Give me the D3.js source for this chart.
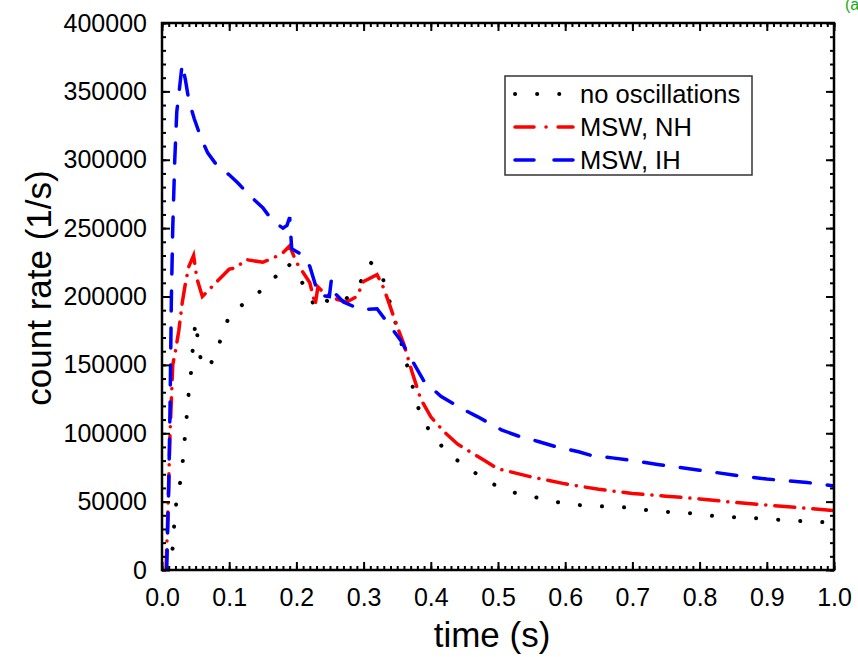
<!DOCTYPE html>
<html>
<head>
<meta charset="utf-8">
<script src="https://cdn.jsdelivr.net/npm/d3@7"></script>
<style>
  body { margin: 0; background: #fff; }
  text { font-family: "Liberation Sans", Arial, sans-serif; }
</style>
</head>
<body>
<svg id="chart" width="858" height="657"></svg>
<script>
// no oscillations
const tNoOsc = [0.007, 0.010, 0.016, 0.018, 0.021, 0.027, 0.031, 0.034, 0.037, 0.040, 0.044, 0.046, 0.050, 0.055, 0.058, 0.063, 0.070, 0.083, 0.092, 0.102, 0.117, 0.142, 0.164, 0.180, 0.186, 0.200, 0.215, 0.228, 0.240, 0.250, 0.270, 0.295, 0.310, 0.325, 0.335, 0.345, 0.355, 0.372, 0.381, 0.397, 0.424, 0.456, 0.490, 0.523, 0.557, 0.590, 0.624, 0.658, 0.690, 0.725, 0.760, 0.790, 0.824, 0.858, 0.890, 0.926, 0.958, 1.0];
const rNoOsc = [0, 7000, 16000, 32000, 48000, 64000, 80000, 97000, 114000, 131000, 148000, 164000, 182000, 162000, 153000, 148000, 148000, 162000, 176000, 187600, 193000, 202000, 212000, 220000, 225000, 217000, 205000, 192000, 198500, 195500, 196000, 210000, 225000, 219000, 203000, 185000, 168000, 136000, 119000, 102500, 85800, 74200, 63300, 56700, 53000, 49500, 47300, 46500, 45800, 43600, 42200, 41400, 39300, 38500, 37800, 36400, 35600, 34600];

// MSW, NH
const tNH = [0.006, 0.008, 0.012, 0.016, 0.020, 0.025, 0.030, 0.035, 0.040, 0.047, 0.052, 0.060, 0.070, 0.080, 0.090, 0.100, 0.110, 0.125, 0.150, 0.165, 0.180, 0.190, 0.200, 0.220, 0.228, 0.232, 0.240, 0.260, 0.275, 0.290, 0.300, 0.320, 0.330, 0.340, 0.350, 0.360, 0.372, 0.385, 0.400, 0.420, 0.440, 0.460, 0.480, 0.500, 0.550, 0.600, 0.650, 0.700, 0.750, 0.800, 0.850, 0.900, 0.950, 1.0];
const rNH = [0, 30000, 100000, 150000, 160000, 175000, 195000, 210000, 222000, 230000, 213000, 200000, 205000, 210000, 215000, 220000, 221000, 227000, 225000, 228000, 232000, 237000, 225000, 210000, 194000, 207000, 203000, 198000, 196000, 200000, 211000, 216000, 206000, 192000, 178000, 165000, 145000, 125000, 112000, 101000, 92000, 86000, 80000, 74000, 68000, 63000, 59000, 56000, 54000, 52000, 49500, 47500, 45500, 43500];

// MSW, IH
const tIH = [0.007, 0.010, 0.012, 0.014, 0.016, 0.019, 0.022, 0.026, 0.030, 0.035, 0.040, 0.048, 0.058, 0.068, 0.083, 0.100, 0.113, 0.130, 0.150, 0.165, 0.180, 0.186, 0.190, 0.193, 0.210, 0.220, 0.233, 0.249, 0.252, 0.256, 0.270, 0.295, 0.320, 0.340, 0.355, 0.370, 0.390, 0.415, 0.450, 0.470, 0.505, 0.530, 0.560, 0.587, 0.620, 0.640, 0.670, 0.700, 0.740, 0.800, 0.850, 0.900, 0.960, 1.0];
const rIH = [0, 60000, 120000, 200000, 250000, 300000, 335000, 352000, 370000, 358000, 343000, 330000, 316000, 305000, 295000, 289000, 283000, 274000, 265000, 255000, 250000, 252000, 258000, 235000, 230000, 222000, 201000, 200000, 212000, 203000, 196000, 190500, 191000, 178000, 168000, 155000, 138000, 127000, 117000, 112000, 102500, 98000, 94000, 90000, 86500, 83600, 82000, 80000, 77000, 73000, 69500, 66500, 64000, 61500];

const seriesNames = ["no oscillations", "MSW, NH", "MSW, IH"];
const xTicks = [0, 0.1, 0.2, 0.3, 0.4, 0.5, 0.6, 0.7, 0.8, 0.9, 1.0];
const yTicks = [0, 50000, 100000, 150000, 200000, 250000, 300000, 350000, 400000];

const svg = d3.select("#chart");
const pLeft = 162, pRight = 834, pTop = 23, pBottom = 570;

const x = d3.scaleLinear().domain([0, 1]).range([pLeft, pRight]);
const y = d3.scaleLinear().domain([0, 400000]).range([pBottom, pTop]);

const series = [
  { name: seriesNames[0], t: tNoOsc, r: rNoOsc, color: "#000", dash: "0.1 22", width: 4 },
  { name: seriesNames[1], t: tNH, r: rNH, color: "#ff0000", dash: "20 9 0.1 9", width: 3.5 },
  { name: seriesNames[2], t: tIH, r: rIH, color: "#0000ff", dash: "20 17", width: 3.5 }
];

const line = d3.line().x(d => x(d[0])).y(d => y(d[1]));

svg.append("defs").append("clipPath").attr("id", "plotclip")
  .append("rect").attr("x", pLeft).attr("y", pTop)
  .attr("width", pRight - pLeft).attr("height", pBottom - pTop);

const lines = svg.append("g").attr("clip-path", "url(#plotclip)");
series.forEach(s => {
  lines.append("path")
    .attr("d", line(s.t.map((t, i) => [t, s.r[i]])))
    .attr("fill", "none")
    .attr("stroke", s.color)
    .attr("stroke-width", s.width)
    .attr("stroke-dasharray", s.dash)
    .attr("stroke-linecap", "round");
});

// axes, ticks inward on all four sides
const xMinor = d3.range(0, 101).map(i => i / 100);
const yMinor = d3.range(0, 41).map(i => i * 10000);

svg.append("g").attr("transform", `translate(0,${pBottom})`)
  .call(d3.axisBottom(x).tickValues(xMinor).tickSize(-4).tickFormat(""));
svg.append("g").attr("transform", `translate(0,${pBottom})`)
  .call(d3.axisBottom(x).tickValues(xTicks).tickSize(-8).tickPadding(18).tickFormat(d3.format(".1f")));
svg.append("g").attr("transform", `translate(0,${pTop})`)
  .call(d3.axisTop(x).tickValues(xMinor).tickSize(-4).tickFormat(""));
svg.append("g").attr("transform", `translate(0,${pTop})`)
  .call(d3.axisTop(x).tickValues(xTicks).tickSize(-8).tickFormat(""));

svg.append("g").attr("transform", `translate(${pLeft},0)`)
  .call(d3.axisLeft(y).tickValues(yMinor).tickSize(-4).tickFormat(""));
svg.append("g").attr("transform", `translate(${pLeft},0)`)
  .call(d3.axisLeft(y).tickValues(yTicks).tickSize(-8).tickPadding(15).tickFormat(d3.format("d")));
svg.append("g").attr("transform", `translate(${pRight},0)`)
  .call(d3.axisRight(y).tickValues(yMinor).tickSize(-4).tickFormat(""));
svg.append("g").attr("transform", `translate(${pRight},0)`)
  .call(d3.axisRight(y).tickValues(yTicks).tickSize(-8).tickFormat(""));

svg.selectAll(".domain").remove();
svg.selectAll(".tick line").attr("stroke", "#000").attr("stroke-width", 2);
svg.selectAll(".tick text")
  .attr("fill", "#000")
  .style("font-family", "'Liberation Sans', Arial, sans-serif")
  .style("font-size", "25px");

svg.append("rect")
  .attr("x", pLeft).attr("y", pTop)
  .attr("width", pRight - pLeft).attr("height", pBottom - pTop)
  .attr("fill", "none").attr("stroke", "#000").attr("stroke-width", 2.5);

// axis titles
svg.append("text")
  .attr("x", 492).attr("y", 647)
  .attr("text-anchor", "middle")
  .style("font-size", "35px")
  .text("time (s)");

svg.append("text")
  .attr("transform", "translate(51,288) rotate(-90)")
  .attr("text-anchor", "middle")
  .style("font-size", "35px")
  .text("count rate (1/s)");

// legend
const legend = svg.append("g");
legend.append("rect")
  .attr("x", 505).attr("y", 76).attr("width", 247).attr("height", 99)
  .attr("fill", "#fff").attr("stroke", "#333").attr("stroke-width", 1.5);
series.forEach((s, i) => {
  const cy = 94 + i * 33;
  legend.append("line")
    .attr("x1", 515).attr("x2", 573).attr("y1", cy).attr("y2", cy)
    .attr("stroke", s.color).attr("stroke-width", s.width)
    .attr("stroke-linecap", "round")
    .attr("stroke-dasharray", i === 0 ? "0.1 22" : i === 1 ? "19 12 0.1 12" : "19 20");
  legend.append("text")
    .attr("x", 580).attr("y", cy + 9)
    .style("font-size", "25.5px")
    .text(s.name);
});

// panel label, cut off at the edge as in the original figure
svg.append("text")
  .attr("x", 845).attr("y", 10)
  .attr("fill", "#11aa11")
  .style("font-size", "16px")
  .text("(a)");
</script>
</body>
</html>
